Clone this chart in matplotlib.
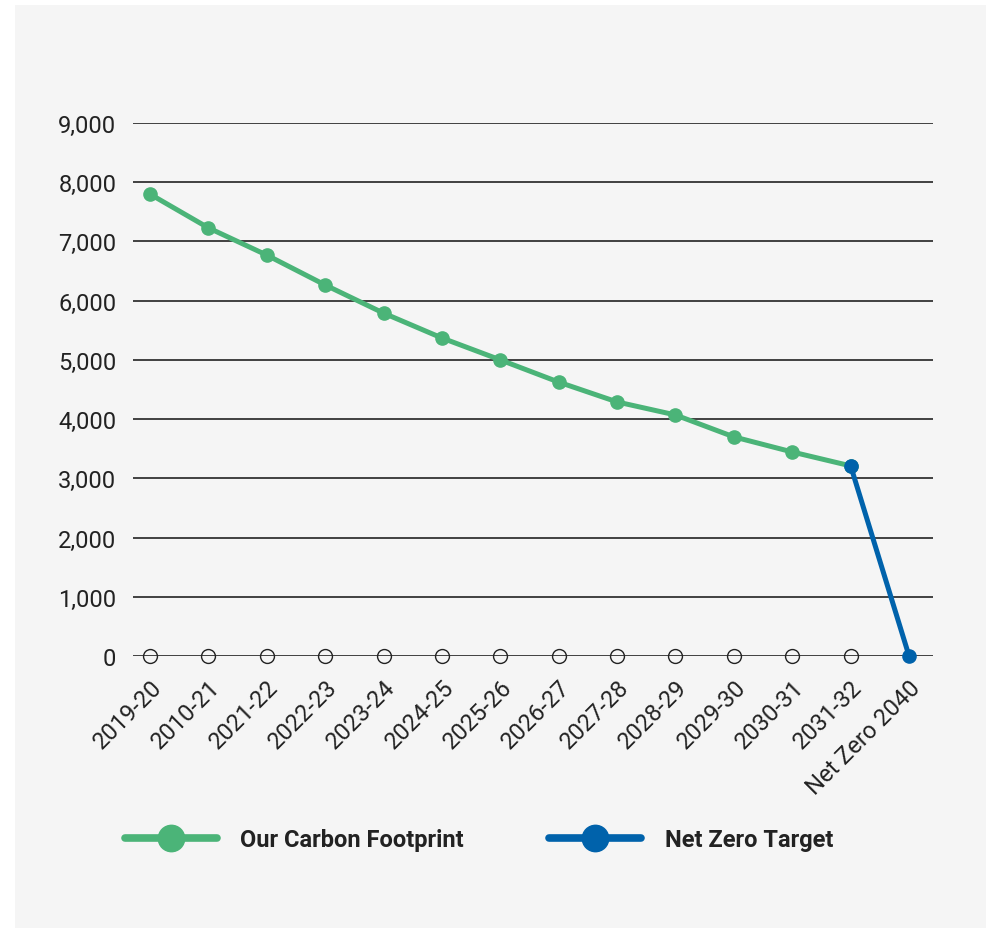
import numpy as np
import matplotlib.pyplot as plt
from matplotlib.patches import Rectangle

plt.rcParams['font.family'] = ['Roboto', 'DejaVu Sans']

years = ['2019-20', '2010-21', '2021-22', '2022-23', '2023-24', '2024-25', '2025-26',
         '2026-27', '2027-28', '2028-29', '2029-30', '2030-31', '2031-32', 'Net Zero 2040']
footprint = [7800, 7230, 6770, 6265, 5790, 5370, 5000, 4625, 4290, 4070, 3700, 3445, 3210]
target_years = ['2031-32', 'Net Zero 2040']
target = [3210, 0]
baseline = [0] * 13

green = '#4bb478'
blue = '#0062ab'

fig = plt.figure(figsize=(9.87, 9.29), dpi=100)
fig.patch.set_facecolor('white')
# grey card behind the chart
fig.add_artist(Rectangle((15 / 987, 0), 1, (929 - 6) / 929, transform=fig.transFigure,
                         facecolor='#f5f5f5', edgecolor='none', zorder=0))

ax = fig.add_axes([133 / 987, (929 - 657) / 929, 800 / 987, 533 / 929])
ax.set_facecolor('none')

x = np.arange(len(years))
xt = [years.index(y) for y in target_years]

ax.plot(x[:13], baseline, linestyle='none', marker='o', markersize=10, markerfacecolor='none',
        markeredgecolor='#222222', markeredgewidth=1, clip_on=False, zorder=3)
ax.plot(x[:13], footprint, color=green, linewidth=3.6, marker='o', markersize=9.5,
        clip_on=False, zorder=4, label='Our Carbon Footprint')
ax.plot(xt, target, color=blue, linewidth=3.6, marker='o', markersize=9.5,
        clip_on=False, zorder=5, label='Net Zero Target')

ax.set_xlim(-0.29, 13.41)
ax.set_ylim(0, 9000)
ax.set_yticks(range(0, 9001, 1000))
ax.set_yticklabels([f'{v:,}' for v in range(0, 9001, 1000)], fontsize=17, color='#222222')
ax.set_xticks(x)
ax.set_xticklabels(years, rotation=45, ha='right', rotation_mode='anchor', fontsize=17, color='#222222')
ax.tick_params(length=0, pad=12)
ax.tick_params(axis='x', pad=14)
ax.grid(axis='y', color='#333333', linewidth=1.3)
ax.set_axisbelow(True)
for s in ax.spines.values():
    s.set_visible(False)

leg = fig.legend(loc='center left', bbox_to_anchor=(113 / 987, (929 - 841) / 929), ncol=2,
                 frameon=False, borderpad=0, prop={'weight': 'bold', 'size': 17},
                 handlelength=3.9, markerscale=2.0, columnspacing=3.6, handletextpad=1.0)
for t in leg.get_texts():
    t.set_color('#222222')
for h in leg.legend_handles:
    h.set_linewidth(5.5)
    h.set_solid_capstyle('round')

fig.savefig('out.png', dpi=100, facecolor=fig.get_facecolor())
